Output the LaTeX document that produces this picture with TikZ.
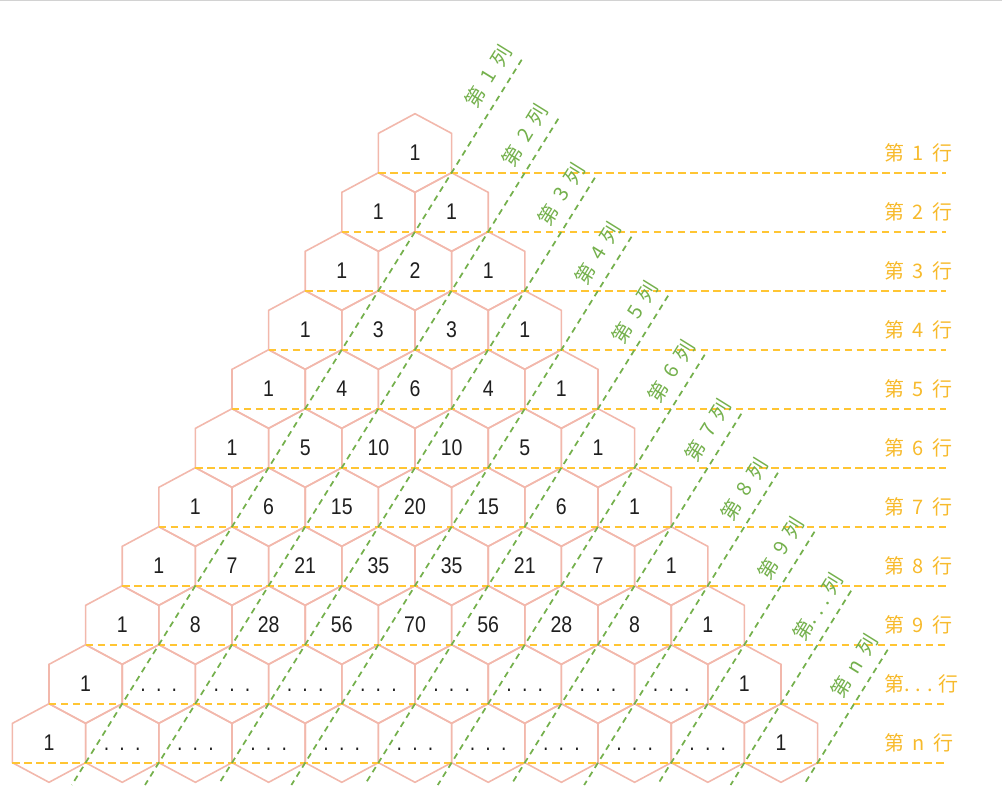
\documentclass[tikz,border=0pt]{standalone}
\usepackage{fontspec}
\setmainfont{Liberation Sans}
\newfontfamily\numfont[FakeStretch=0.86]{Liberation Sans}
\newfontfamily\cjk{Noto Sans CJK SC}
\definecolor{hexc}{HTML}{F2B8AC}
\definecolor{rowc}{HTML}{FFC533}
\definecolor{rowt}{HTML}{F7BA2C}
\definecolor{colc}{HTML}{74B04C}
\newcommand\dd{\vphantom{1}.\hspace{0.45em}.\hspace{0.45em}.}
\newcommand\lab[2]{第\hspace{0.42em}#1\hspace{0.42em}#2}
\begin{document}
\begin{tikzpicture}[x=0.75pt,y=-0.75pt,
  hexline/.style={draw=hexc,line width=1.2pt},
  num/.style={font=\numfont\fontsize{17}{17}\selectfont,text=black!88,inner sep=0pt},
  rowline/.style={draw=rowc,line width=1.5pt,dash pattern=on 5.5pt off 3.5pt},
  colline/.style={draw=colc,line width=1.3pt,dash pattern=on 4.5pt off 3.5pt},
  rowlab/.style={font=\cjk\fontsize{15}{15}\selectfont,text=rowt,anchor=west,inner sep=0pt},
  collab/.style={font=\cjk\fontsize{15}{15}\selectfont,text=colc,rotate=58.2,inner sep=0pt}]
\useasboundingbox (0,0) rectangle (1002,794);
\draw[gray!35,line width=0.8pt] (0,0.5) -- (1002,0.5);
% hexagons
\foreach \r in {1,...,11}{
  \foreach \i in {1,...,\r}{
    \pgfmathsetmacro\cx{415-36.6*(\r-1)+73.2*(\i-1)}
    \pgfmathsetmacro\cy{153+59*(\r-1)}
    \draw[hexline] (\cx,\cy-39.3) -- ++(36.6,19.65) -- ++(0,39.3) -- ++(-36.6,19.65) -- ++(-36.6,-19.65) -- ++(0,-39.3) -- cycle;
  }
}
% row lines and labels
\foreach \r/\t in {1/{\lab{1}{行}},2/{\lab{2}{行}},3/{\lab{3}{行}},4/{\lab{4}{行}},5/{\lab{5}{行}},6/{\lab{6}{行}},7/{\lab{7}{行}},8/{\lab{8}{行}},9/{\lab{9}{行}},10/{第. . . 行},11/{\lab{n}{行}}}{
  \pgfmathsetmacro\lx{415-36.6*(\r-1)-36.6}
  \pgfmathsetmacro\cy{153+59*(\r-1)}
  \coordinate (rs-\r) at (\lx,\cy+19.65);
  \coordinate (re-\r) at (946,\cy+19.65);
  \draw[rowline] (rs-\r) -- (re-\r);
  \node[rowlab] (rl-\r) at (884,\cy) {\t};
}
% column lines and labels
\foreach \k/\t in {1/{\lab{1}{列}},2/{\lab{2}{列}},3/{\lab{3}{列}},4/{\lab{4}{列}},5/{\lab{5}{列}},6/{\lab{6}{列}},7/{\lab{7}{列}},8/{\lab{8}{列}},9/{\lab{9}{列}},10/{第. . . 列},11/{\lab{n}{列}}}{
  \pgfmathsetmacro\px{451.6+36.6*(\k-1)}
  \pgfmathsetmacro\py{172.7+59*(\k-1)}
  \pgfmathsetmacro\bx{\px-0.6203*(785-\py)}
  \coordinate (ct-\k) at (\px+70.1,\py-113);
  \coordinate (cb-\k) at (\bx,785);
  \draw[colline] (ct-\k) -- (cb-\k);
  \node[collab] (cl-\k) at (\px+36.6,\py-96.5) {\t};
}
% numbers
\foreach \r/\vals in {1/{1},2/{1,1},3/{1,2,1},4/{1,3,3,1},5/{1,4,6,4,1},6/{1,5,10,10,5,1},7/{1,6,15,20,15,6,1},8/{1,7,21,35,35,21,7,1},9/{1,8,28,56,70,56,28,8,1},10/{1,\dd,\dd,\dd,\dd,\dd,\dd,\dd,\dd,1},11/{1,\dd,\dd,\dd,\dd,\dd,\dd,\dd,\dd,\dd,1}}{
  \foreach \v [count=\i] in \vals {
    \pgfmathsetmacro\cx{415-36.6*(\r-1)+73.2*(\i-1)}
    \pgfmathsetmacro\cy{153+59*(\r-1)}
    \node[num] (n-\r-\i) at (\cx,\cy) {\v};
  }
}
\end{tikzpicture}
\end{document}
